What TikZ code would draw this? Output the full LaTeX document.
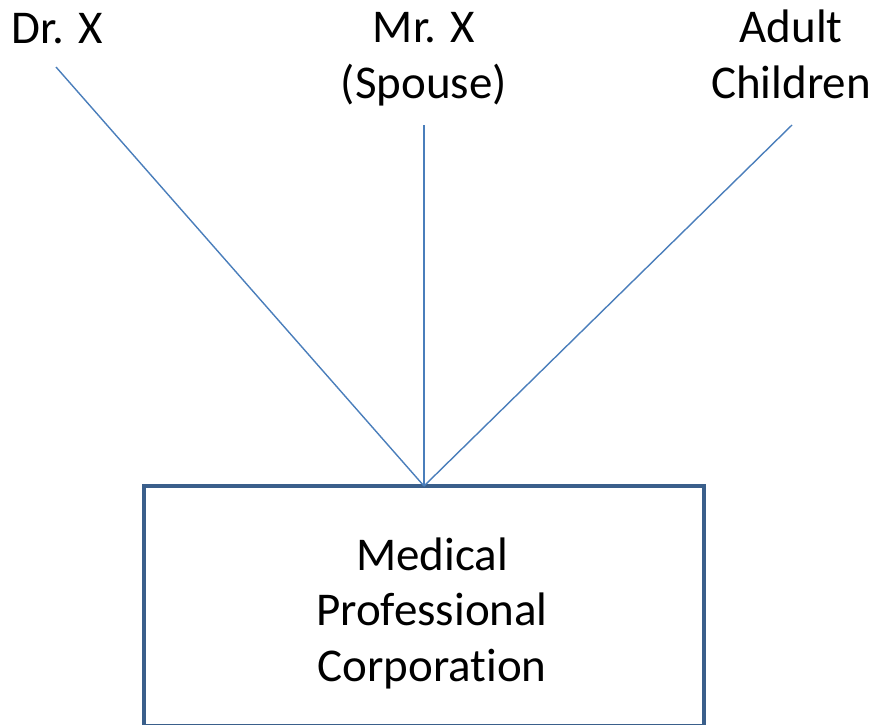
\documentclass[tikz,border=0pt]{standalone}
\usepackage{fontspec}
\setmainfont{Carlito}[Ligatures=NoCommon]
\definecolor{linkblue}{HTML}{4A7EBB}
\definecolor{boxblue}{HTML}{3A5F8B}
\begin{document}
\begin{tikzpicture}[x=1pt,y=-1pt,
  lbl/.style={inner sep=0pt, outer sep=0pt, align=center, anchor=base,
    font=\fontsize{47}{55.5}\selectfont},
  link/.style={draw=linkblue, line width=1.4pt},
  corp/.style={draw=boxblue, line width=4.5pt, inner sep=0pt, outer sep=0pt,
    minimum width=560pt, minimum height=240.3pt, anchor=north}]
\useasboundingbox (0,0) rectangle (875,724);
\clip (0,0) rectangle (875,724);
% labels (anchored at the baseline of their last line)
\node[lbl] (drx) at (57,43) {Dr. X};
\node[lbl] (mrx) at (424,98) {Mr. X\\(Spouse)};
\node[lbl] (kids) at (791,98) {Adult\\Children};
% box
\node[corp] (mpc) at (424,486) {};
\node[lbl] (mpctext) at (432,681) {Medical\\Professional\\Corporation};
% connector start points
\coordinate (drxend) at (56,67);
\coordinate (mrxend) at (424,125);
\coordinate (kidsend) at (792,125);
\draw[link] (drxend) -- (mpc.north);
\draw[link] (mrxend) -- (mpc.north);
\draw[link] (kidsend) -- (mpc.north);
\end{tikzpicture}
\end{document}
